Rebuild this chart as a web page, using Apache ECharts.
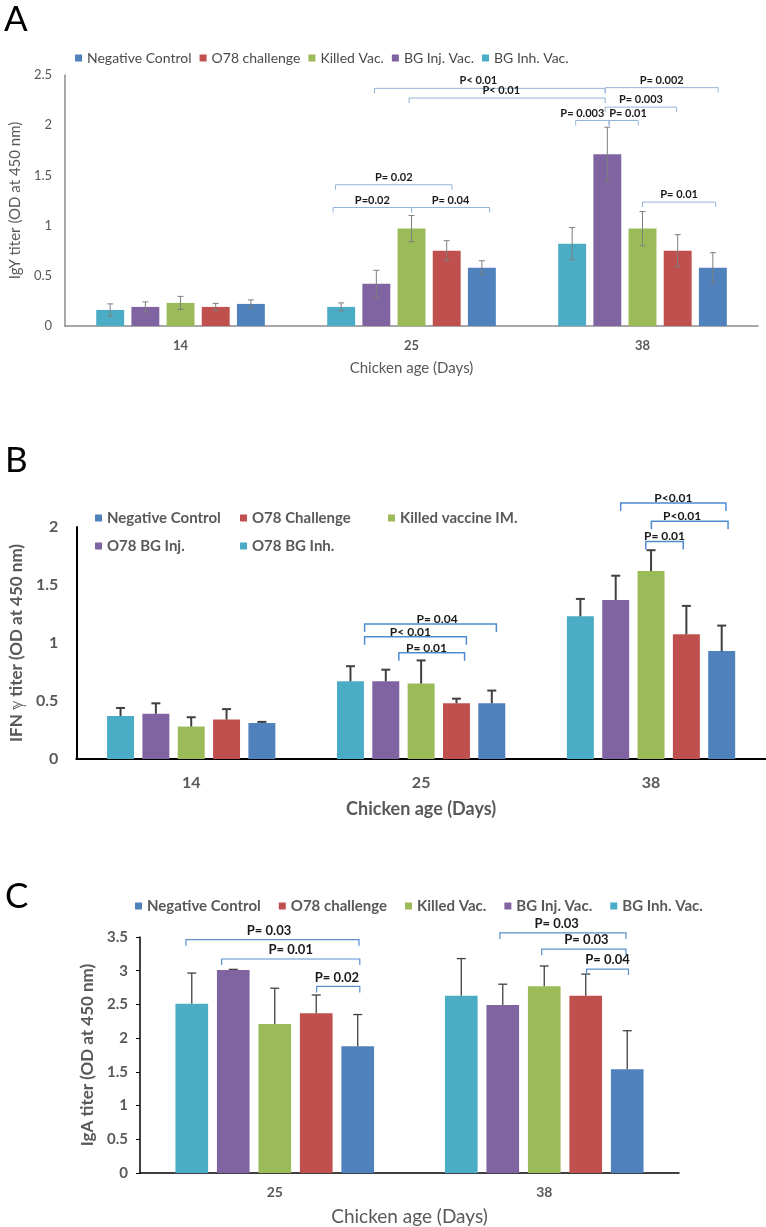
<!DOCTYPE html>
<html>
<head>
<meta charset="utf-8">
<title>IgY, IFN and IgA titers</title>
<script src="https://cdn.jsdelivr.net/npm/echarts@6/dist/echarts.min.js"></script>
<style>
    html, body { margin: 0; padding: 0; background: #ffffff; }
    #chart { width: 766px; height: 1227px; }
</style>
</head>
<body>
<div id="chart"></div>
<script>
// ---------- data ----------
var daysA = ['14', '25', '38'];
var daysB = ['14', '25', '38'];
var daysC = ['25', '38'];

// groups in the order the bars stand inside each day (left to right)
var groupsAC = ['BG Inh. Vac.', 'BG Inj. Vac.', 'Killed Vac.', 'O78 challenge', 'Negative Control'];
var groupsB = ['O78 BG Inh.', 'O78 BG Inj.', 'Killed vaccine IM.', 'O78 Challenge', 'Negative Control'];
var groupColors = ['#4bacc6', '#8064a2', '#9bbb59', '#c0504d', '#4f81bd'];

// A: IgY titer, mean and +/- error
var igyInh = [0.16, 0.19, 0.82];
var igyInj = [0.19, 0.42, 1.71];
var igyKilled = [0.23, 0.97, 0.97];
var igyO78 = [0.19, 0.75, 0.75];
var igyNeg = [0.22, 0.58, 0.58];
var igyInhErr = [0.06, 0.04, 0.16];
var igyInjErr = [0.05, 0.135, 0.27];
var igyKilledErr = [0.065, 0.13, 0.17];
var igyO78Err = [0.035, 0.10, 0.16];
var igyNegErr = [0.04, 0.07, 0.15];

// B: IFN gamma titer, mean and upper error
var ifnInh = [0.37, 0.67, 1.23];
var ifnInj = [0.39, 0.67, 1.37];
var ifnKilled = [0.28, 0.65, 1.62];
var ifnO78 = [0.34, 0.48, 1.075];
var ifnNeg = [0.31, 0.48, 0.93];
var ifnInhErr = [0.07, 0.13, 0.15];
var ifnInjErr = [0.09, 0.10, 0.21];
var ifnKilledErr = [0.08, 0.20, 0.18];
var ifnO78Err = [0.09, 0.04, 0.245];
var ifnNegErr = [0.01, 0.11, 0.22];

// C: IgA titer, mean and upper error
var igaInh = [2.51, 2.63];
var igaInj = [3.01, 2.49];
var igaKilled = [2.21, 2.77];
var igaO78 = [2.37, 2.63];
var igaNeg = [1.88, 1.54];
var igaInhErr = [0.455, 0.55];
var igaInjErr = [0.01, 0.31];
var igaKilledErr = [0.53, 0.30];
var igaO78Err = [0.27, 0.32];
var igaNegErr = [0.47, 0.57];

// significance brackets: [from day, from bar, to day, to bar, level]
var bracketsA = [
    [1, 0.95, 2, 0.94, 2.367],
    [1, 1.93, 2, 0.94, 2.27],
    [2, 0.94, 2, 4.15, 2.374],
    [2, 0.94, 2, 2.97, 2.18],
    [2, 0.10, 2, 1.05, 2.047],
    [2, 1.05, 2, 1.88, 2.047],
    [2, 2.0, 2, 4.08, 1.234],
    [1, -0.16, 1, 3.15, 1.407],
    [1, -0.23, 1, 2.0, 1.18],
    [1, 2.0, 1, 4.22, 1.18]
];
var bracketLabelsA = ['P< 0.01', 'P< 0.01', 'P= 0.002', 'P= 0.003', 'P= 0.003', 'P= 0.01', 'P= 0.01', 'P= 0.02', 'P=0.02', 'P= 0.04'];
// where along each bracket its label sits (0 = left end, 1 = right end)
var bracketLabelAtA = [0.45, 0.47, 0.5, 0.5, 0.2, 0.65, 0.5, 0.5, 0.5, 0.5];

var bracketsB = [
    [1, 0.40, 1, 4.13, 1.164],
    [1, 0.40, 1, 3.28, 1.054],
    [1, 1.37, 1, 3.23, 0.916],
    [2, 1.14, 2, 4.12, 2.207],
    [2, 2.01, 2, 4.18, 2.05],
    [2, 1.85, 2, 2.91, 1.876]
];
var bracketLabelsB = ['P= 0.04', 'P< 0.01', 'P= 0.01', 'P<0.01', 'P<0.01', 'P= 0.01'];
var bracketLabelAtB = [0.55, 0.45, 0.42, 0.5, 0.4, 0.5];

var bracketsC = [
    [0, -0.14, 0, 4.03, 3.46],
    [0, 0.72, 0, 4.05, 3.174],
    [0, 3.01, 0, 4.05, 2.767],
    [1, 0.93, 1, 3.97, 3.56],
    [1, 1.94, 1, 3.97, 3.32],
    [1, 3.02, 1, 4.03, 3.025]
];
var bracketLabelsC = ['P= 0.03', 'P= 0.01', 'P= 0.02', 'P= 0.03', 'P= 0.03', 'P= 0.04'];
var bracketLabelAtC = [0.48, 0.5, 0.47, 0.45, 0.53, 0.5];

// ---------- chart ----------
var FONT = 'Lato, "Noto Sans", sans-serif';
var chart = echarts.init(document.getElementById('chart'));

var panels = [
    {
        names: groupsAC,
        values: [igyInh, igyInj, igyKilled, igyO78, igyNeg],
        errs: [igyInhErr, igyInjErr, igyKilledErr, igyO78Err, igyNegErr],
        sym: true, catGap: 0.27, gap: 0.26,
        errColor: '#7f7f7f', errWidth: 1, cap: 3,
        brackets: bracketsA, labels: bracketLabelsA, labelAt: bracketLabelAtA,
        bracketColor: '#95b3d7', bracketWidth: 1, tick: 5, labelSize: 11, labelLift: 7.5
    },
    {
        names: groupsB,
        values: [ifnInh, ifnInj, ifnKilled, ifnO78, ifnNeg],
        errs: [ifnInhErr, ifnInjErr, ifnKilledErr, ifnO78Err, ifnNegErr],
        sym: false, catGap: 0.268, gap: 0.31,
        errColor: '#404040', errWidth: 2, cap: 4.5,
        brackets: bracketsB, labels: bracketLabelsB, labelAt: bracketLabelAtB,
        bracketColor: '#4f8bd0', bracketWidth: 1.5, tick: 8, labelSize: 12, labelLift: 5
    },
    {
        names: groupsAC,
        values: [igaInh, igaInj, igaKilled, igaO78, igaNeg],
        errs: [igaInhErr, igaInjErr, igaKilledErr, igaO78Err, igaNegErr],
        sym: false, catGap: 0.263, gap: 0.27,
        errColor: '#404040', errWidth: 1.3, cap: 4.5,
        brackets: bracketsC, labels: bracketLabelsC, labelAt: bracketLabelAtC,
        bracketColor: '#5a8fd0', bracketWidth: 1.2, tick: 6, labelSize: 13, labelLift: 9
    }
];

// centre of bar k inside a category band, same rule ECharts uses
function slot(band, catGap, gap, k) {
    var n = 5;
    var w = band * (1 - catGap) / (n + (n - 1) * gap);
    var total = n * w + (n - 1) * w * gap;
    return -total / 2 + w / 2 + k * w * (1 + gap);
}

function errorSeries(p, idx) {
    var data = [];
    p.values.forEach(function (vals, s) {
        vals.forEach(function (v, c) {
            var e = p.errs[s][c];
            data.push([c, s, p.sym ? v - e : v, v + e]);
        });
    });
    return {
        type: 'custom', xAxisIndex: idx, yAxisIndex: idx, z: 5, silent: true,
        encode: {x: 0, y: 3},
        data: data,
        renderItem: function (params, api) {
            var band = api.size([1, 0])[0];
            var top = api.coord([api.value(0), api.value(3)]);
            var bot = api.coord([api.value(0), api.value(2)]);
            var x = top[0] + slot(band, p.catGap, p.gap, api.value(1));
            var st = {stroke: p.errColor, lineWidth: p.errWidth};
            var kids = [
                {type: 'line', shape: {x1: x, y1: bot[1], x2: x, y2: top[1]}, style: st},
                {type: 'line', shape: {x1: x - p.cap, y1: top[1], x2: x + p.cap, y2: top[1]}, style: st}
            ];
            if (p.sym) {
                kids.push({type: 'line', shape: {x1: x - p.cap, y1: bot[1], x2: x + p.cap, y2: bot[1]}, style: st});
            }
            return {type: 'group', children: kids};
        }
    };
}

function bracketSeries(p, idx) {
    return {
        type: 'custom', xAxisIndex: idx, yAxisIndex: idx, z: 6, silent: true,
        encode: {x: 0, y: 4},
        data: p.brackets,
        renderItem: function (params, api) {
            var band = api.size([1, 0])[0];
            var a = api.coord([api.value(0), api.value(4)]);
            var b = api.coord([api.value(2), api.value(4)]);
            var x1 = a[0] + slot(band, p.catGap, p.gap, api.value(1));
            var x2 = b[0] + slot(band, p.catGap, p.gap, api.value(3));
            var y = a[1];
            var at = p.labelAt[params.dataIndex];
            return {type: 'group', children: [
                {type: 'polyline',
                    shape: {points: [[x1, y + p.tick], [x1, y], [x2, y], [x2, y + p.tick]]},
                    style: {stroke: p.bracketColor, lineWidth: p.bracketWidth, fill: null}},
                {type: 'text', x: x1 + (x2 - x1) * at, y: y - p.labelLift,
                    style: {text: p.labels[params.dataIndex], fill: '#1a1a1a',
                        fontSize: p.labelSize, fontWeight: 'bold', fontFamily: FONT,
                        align: 'center', verticalAlign: 'middle'}}
            ]};
        }
    };
}

var series = [];
panels.forEach(function (p, idx) {
    p.names.forEach(function (name, s) {
        series.push({
            name: name, type: 'bar', xAxisIndex: idx, yAxisIndex: idx,
            data: p.values[s],
            barGap: Math.round(p.gap * 100) + '%',
            barCategoryGap: (p.catGap * 100).toFixed(1) + '%',
            itemStyle: {color: groupColors[s]}
        });
    });
    series.push(errorSeries(p, idx));
    series.push(bracketSeries(p, idx));
});

var greyText = '#595959';

var option = {
    animation: false,
    color: groupColors,
    graphic: [
        {type: 'text', x: 4, y: 20, style: {text: 'A', fontSize: 35, fontFamily: FONT, fill: '#000', align: 'left', verticalAlign: 'middle'}},
        {type: 'text', x: 5, y: 461, style: {text: 'B', fontSize: 35, fontFamily: FONT, fill: '#000', align: 'left', verticalAlign: 'middle'}},
        {type: 'text', x: 5, y: 897, style: {text: 'C', fontSize: 35, fontFamily: FONT, fill: '#000', align: 'left', verticalAlign: 'middle'}}
    ],
    legend: [
        {left: 70, top: 44, icon: 'rect', itemWidth: 7, itemHeight: 7, itemGap: 8,
            data: ['Negative Control', 'O78 challenge', 'Killed Vac.', 'BG Inj. Vac.', 'BG Inh. Vac.'],
            textStyle: {fontFamily: FONT, fontSize: 14, color: '#4a4a4a', lineHeight: 18}},
        {left: 90, top: 504, orient: 'vertical', icon: 'rect', itemWidth: 7, itemHeight: 7, itemGap: 10,
            data: ['Negative Control', 'O78 BG Inj.'],
            textStyle: {fontFamily: FONT, fontSize: 15, fontWeight: 'bold', color: greyText, lineHeight: 18}},
        {left: 235, top: 504, orient: 'vertical', icon: 'rect', itemWidth: 7, itemHeight: 7, itemGap: 10,
            data: ['O78 Challenge', 'O78 BG Inh.'],
            textStyle: {fontFamily: FONT, fontSize: 15, fontWeight: 'bold', color: greyText, lineHeight: 18}},
        {left: 383, top: 504, orient: 'vertical', icon: 'rect', itemWidth: 7, itemHeight: 7, itemGap: 10,
            data: ['Killed vaccine IM.'],
            textStyle: {fontFamily: FONT, fontSize: 15, fontWeight: 'bold', color: greyText, lineHeight: 18}},
        {left: 130, top: 892, icon: 'rect', itemWidth: 7, itemHeight: 7, itemGap: 18,
            data: ['Negative Control', 'O78 challenge', 'Killed Vac.', 'BG Inj. Vac.', 'BG Inh. Vac.'],
            textStyle: {fontFamily: FONT, fontSize: 15, fontWeight: 'bold', color: greyText, lineHeight: 18}}
    ],
    grid: [
        {left: 51, top: 75, width: 707, height: 251},
        {left: 63, top: 527, width: 703, height: 232},
        {left: 140, top: 937, width: 539, height: 236}
    ],
    xAxis: [
        {gridIndex: 0, type: 'category', data: daysA,
            axisLine: {lineStyle: {color: '#8c8c8c', width: 1.5}}, axisTick: {show: false},
            axisLabel: {fontFamily: FONT, fontSize: 13, fontWeight: 'bold', color: greyText, margin: 13},
            name: 'Chicken age (Days)', nameLocation: 'middle', nameGap: 35,
            nameTextStyle: {fontFamily: FONT, fontSize: 15, color: greyText}},
        {gridIndex: 1, type: 'category', data: daysB,
            axisLine: {lineStyle: {color: '#000', width: 2}}, axisTick: {show: false},
            axisLabel: {fontFamily: FONT, fontSize: 16, fontWeight: 'bold', color: greyText, margin: 16},
            name: 'Chicken age (Days)', nameLocation: 'middle', nameGap: 41,
            nameTextStyle: {fontFamily: FONT, fontSize: 18, fontWeight: 'bold', color: greyText}},
        {gridIndex: 2, type: 'category', data: daysC,
            axisLine: {lineStyle: {color: '#000', width: 1.5}}, axisTick: {show: false},
            axisLabel: {fontFamily: FONT, fontSize: 14, fontWeight: 'bold', color: greyText, margin: 12},
            name: 'Chicken age (Days)', nameLocation: 'middle', nameGap: 34,
            nameTextStyle: {fontFamily: FONT, fontSize: 19, color: greyText}}
    ],
    yAxis: [
        {gridIndex: 0, type: 'value', min: 0, max: 2.5, interval: 0.5, splitLine: {show: false},
            axisLine: {show: true, lineStyle: {color: '#8c8c8c', width: 1.5}}, axisTick: {show: false},
            axisLabel: {fontFamily: FONT, fontSize: 13, color: greyText, margin: 13},
            name: 'IgY titer (OD at 450 nm)', nameLocation: 'middle', nameGap: 36,
            nameTextStyle: {fontFamily: FONT, fontSize: 15, color: greyText}},
        {gridIndex: 1, type: 'value', min: 0, max: 2, interval: 0.5, splitLine: {show: false},
            axisLine: {show: true, lineStyle: {color: '#000', width: 2}}, axisTick: {show: false},
            axisLabel: {fontFamily: FONT, fontSize: 16, fontWeight: 'bold', color: greyText, margin: 18},
            name: 'IFN \u213D titer (OD at 450 nm)', nameLocation: 'middle', nameGap: 43,
            nameTextStyle: {fontFamily: FONT, fontSize: 17, fontWeight: 'bold', color: greyText}},
        {gridIndex: 2, type: 'value', min: 0, max: 3.5, interval: 0.5, splitLine: {show: false},
            axisLine: {show: true, lineStyle: {color: '#000', width: 1.5}},
            axisTick: {show: true, length: 4, lineStyle: {color: '#000'}},
            axisLabel: {fontFamily: FONT, fontSize: 15, fontWeight: 'bold', color: greyText, margin: 12},
            name: 'IgA titer (OD at 450 nm)', nameLocation: 'middle', nameGap: 40,
            nameTextStyle: {fontFamily: FONT, fontSize: 17, fontWeight: 'bold', color: greyText}}
    ],
    series: series
};

chart.setOption(option);
window.onresize = function () {
    chart.resize();
};
</script>
</body>
</html>
